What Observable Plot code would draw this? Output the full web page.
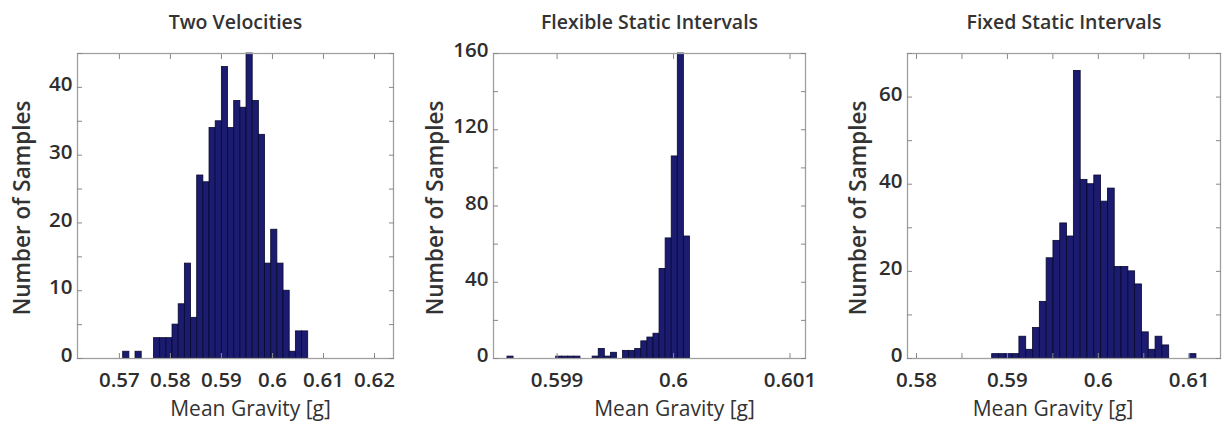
<!DOCTYPE html>
<html>
<head>
<meta charset="utf-8">
<script src="https://cdn.jsdelivr.net/npm/d3@7"></script>
<script src="https://cdn.jsdelivr.net/npm/@observablehq/plot@0.6"></script>
<style>
  html, body { margin: 0; padding: 0; background: #fff; }
  #row { display: flex; flex-direction: row; align-items: flex-start; width: 1226px; height: 422px; overflow: hidden; }
  #row svg { display: block; }
</style>
</head>
<body>
<div id="row"></div>
<script>
// ---- Data ----
const titles = ["Two Velocities", "Flexible Static Intervals", "Fixed Static Intervals"];
const xLabel = "Mean Gravity [g]";
const yLabel = "Number of Samples";

// 30-bin histogram counts for each panel
const countsTwoVelocities = [1,0,1,0,0,3,3,3,5,8,14,6,27,26,34,35,43,34,38,37,45,38,33,14,19,14,10,1,4,4];
const countsFlexible      = [1,0,0,0,0,0,0,0,1,1,1,1,0,0,1,5,1,3,0,4,4,5,9,11,13,47,63,106,160,64];
const countsFixed         = [1,1,1,1,5,2,7,13,23,27,31,28,66,41,40,42,36,39,21,21,20,17,6,2,5,3,0,0,0,1];

// data range (min, max) covered by the 30 bins
const rangeTwoVelocities = [0.570745, 0.607005];
const rangeFlexible      = [0.598574, 0.600141];
const rangeFixed         = [0.588323, 0.610793];

// axis domains
const xDomainTwoVelocities = [0.561788, 0.623724];
const xDomainFlexible      = [0.598454, 0.601133];
const xDomainFixed         = [0.57901, 0.61344];
const yDomainTwoVelocities = [0, 45];
const yDomainFlexible      = [0, 160];
const yDomainFixed         = [0, 70];

// tick labels and minor tick marks
const xTicksTwoVelocities = [0.57, 0.58, 0.59, 0.6, 0.61, 0.62];
const xTicksFlexible      = [0.599, 0.6, 0.601];
const xTicksFixed         = [0.58, 0.59, 0.6, 0.61];
const xMarksFixed         = [0.58, 0.585, 0.59, 0.595, 0.6, 0.605, 0.61];
const yTicksTwoVelocities = [0, 10, 20, 30, 40];
const yMarksTwoVelocities = [0, 5, 10, 15, 20, 25, 30, 35, 40, 45];
const yTicksFlexible      = [0, 40, 80, 120, 160];
const yMarksFlexible      = [0, 20, 40, 60, 80, 100, 120, 140, 160];
const yTicksFixed         = [0, 20, 40, 60];
const yMarksFixed         = [0, 10, 20, 30, 40, 50, 60, 70];

// ---- Layout ----
const panels = [
  {title: titles[0], counts: countsTwoVelocities, range: rangeTwoVelocities, xDomain: xDomainTwoVelocities, yDomain: yDomainTwoVelocities,
   xTicks: xTicksTwoVelocities, xMarks: xTicksTwoVelocities, yTicks: yTicksTwoVelocities, yMarks: yMarksTwoVelocities,
   width: 410, ml: 77, mr: 17, xLabelDx: 15, yLabelDx: -55},
  {title: titles[1], counts: countsFlexible, range: rangeFlexible, xDomain: xDomainFlexible, yDomain: yDomainFlexible,
   xTicks: xTicksFlexible, xMarks: xTicksFlexible, yTicks: yTicksFlexible, yMarks: yMarksFlexible,
   width: 410, ml: 83, mr: 15, xLabelDx: 25, yLabelDx: -58},
  {title: titles[2], counts: countsFixed, range: rangeFixed, xDomain: xDomainFixed, yDomain: yDomainFixed,
   xTicks: xTicksFixed, xMarks: xMarksFixed, yTicks: yTicksFixed, yMarks: yMarksFixed,
   width: 406, ml: 87, mr: 6, xLabelDx: -11, yLabelDx: -49}
];

const fmt = d3.format("~g");
const row = document.getElementById("row");

for (const p of panels) {
  const n = p.counts.length;
  const step = (p.range[1] - p.range[0]) / n;
  const bins = p.counts.map((c, i) => ({x1: p.range[0] + i * step, x2: p.range[0] + (i + 1) * step, count: c}))
                       .filter(d => d.count > 0);
  const chart = Plot.plot({
    width: p.width,
    height: 422,
    marginLeft: p.ml,
    marginRight: p.mr,
    marginTop: 53,
    marginBottom: 64,
    style: {fontFamily: "'Open Sans', sans-serif", fontSize: "20px", color: "#333", background: "#fff", overflow: "visible"},
    x: {domain: p.xDomain},
    y: {domain: p.yDomain},
    marks: [
      Plot.rectY(bins, {x1: "x1", x2: "x2", y: "count", fill: "#1b1b70", stroke: "#08082e", strokeWidth: 0.8}),
      Plot.frame({stroke: "#a0a0a0", strokeWidth: 1.3}),
      // inside tick marks
      Plot.axisX({anchor: "bottom", ticks: p.xMarks, tickSize: -5, stroke: "#888", tickFormat: () => "", label: null}),
      Plot.axisX({anchor: "top", ticks: p.xMarks, tickSize: -5, stroke: "#888", tickFormat: () => "", label: null}),
      Plot.axisY({anchor: "left", ticks: p.yMarks, tickSize: -5, stroke: "#888", tickFormat: () => "", label: null}),
      Plot.axisY({anchor: "right", ticks: p.yMarks, tickSize: -5, stroke: "#888", tickFormat: () => "", label: null}),
      // tick labels
      Plot.axisX({anchor: "bottom", ticks: p.xTicks, tickSize: 0, tickPadding: 14, tickFormat: fmt, label: null, fontSize: 20.5, fontWeight: 600, fill: "#2e2e2e"}),
      Plot.axisY({anchor: "left", ticks: p.yTicks, tickSize: 0, tickPadding: 5, dy: -3, tickFormat: fmt, label: null, fontSize: 20.5, fontWeight: 600, fill: "#2e2e2e"}),
      // titles and axis labels
      Plot.text([p.title], {frameAnchor: "top", dy: -31, text: d => d, textAnchor: "middle", lineAnchor: "middle", fontSize: 19.5, fontWeight: 600, fill: "#333"}),
      Plot.text([xLabel], {frameAnchor: "bottom", dy: 51, dx: p.xLabelDx, text: d => d, textAnchor: "middle", lineAnchor: "middle", fontSize: 21, fill: "#333"}),
      Plot.text([yLabel], {frameAnchor: "left", dx: p.yLabelDx, dy: 2, rotate: -90, text: d => d, textAnchor: "middle", lineAnchor: "middle", fontSize: 22.5, fontWeight: 600, fill: "#333"})
    ]
  });
  row.appendChild(chart);
}
</script>
</body>
</html>
